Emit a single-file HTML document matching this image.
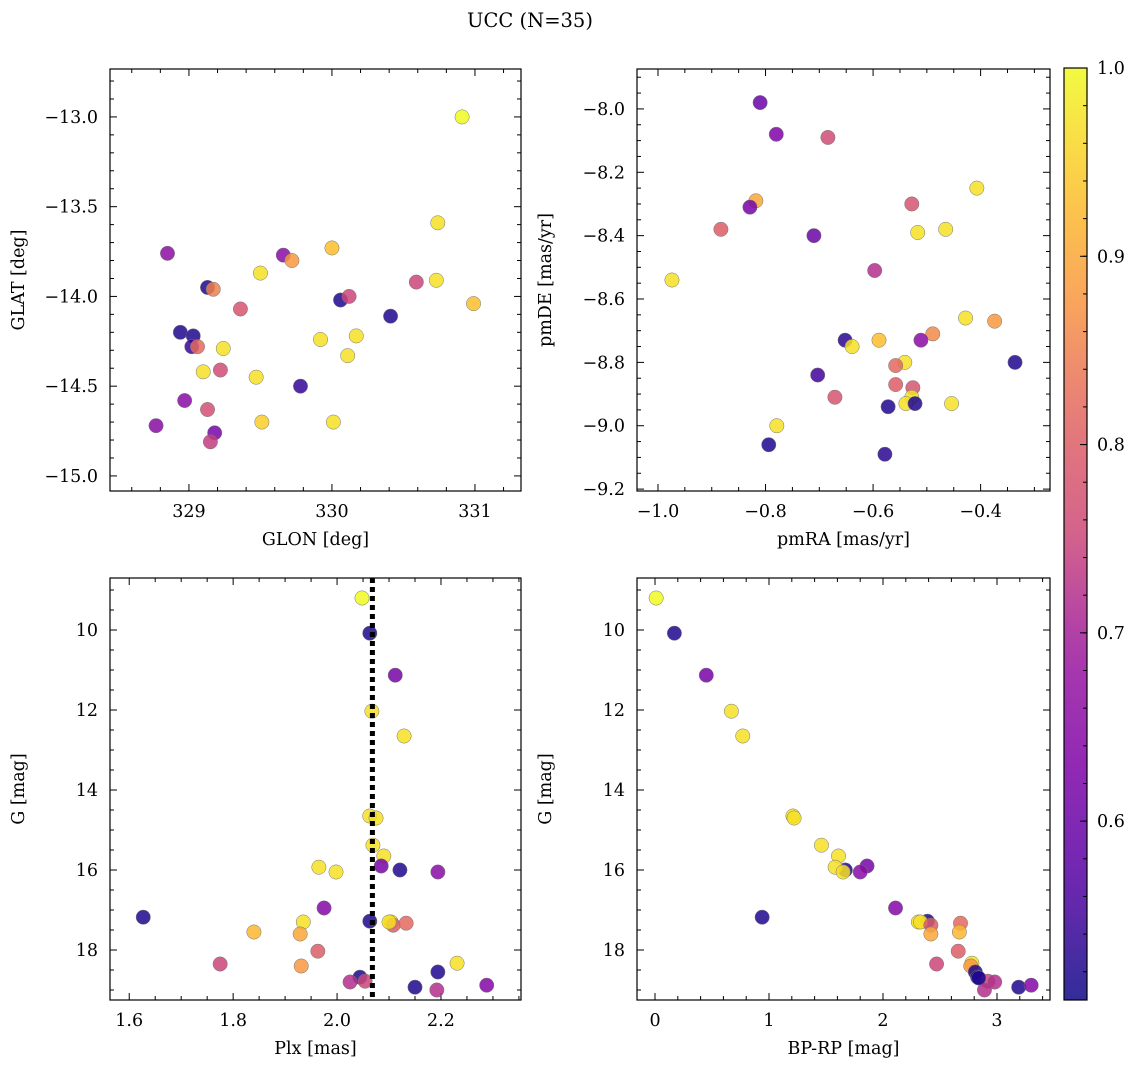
<!DOCTYPE html>
<html><head><meta charset="utf-8">
<style>
html,body{margin:0;padding:0;background:#fff;}
svg{display:block;font-family:"DejaVu Serif","Liberation Serif",serif;}
</style></head>
<body>
<svg id="fig" width="1136" height="1068" viewBox="0 0 1136 1068" xmlns="http://www.w3.org/2000/svg">
<defs>
<linearGradient id="cbg" x1="0" y1="1" x2="0" y2="0"></linearGradient>
</defs>
<text x="530" y="27" text-anchor="middle" font-size="19.5">UCC (N=35)</text>
</svg>
<script>
// ---- Panel 1: GLON / GLAT ----
const glon = [330.91,330.74,328.85,329.66,329.72,330.0,329.50,330.73,330.59,330.99,329.13,329.17,330.06,330.12,329.36,330.41,328.94,329.03,330.17,329.92,330.11,329.02,329.06,329.24,329.10,329.22,329.47,329.78,328.97,329.13,329.51,330.01,328.77,329.18,329.15];
const glat = [-13.0,-13.59,-13.76,-13.77,-13.80,-13.73,-13.87,-13.91,-13.92,-14.04,-13.95,-13.96,-14.02,-14.0,-14.07,-14.11,-14.20,-14.22,-14.22,-14.24,-14.33,-14.28,-14.28,-14.29,-14.42,-14.41,-14.45,-14.50,-14.58,-14.63,-14.70,-14.70,-14.72,-14.76,-14.81];
const prob1 = [1.0,0.97,0.66,0.65,0.88,0.93,0.97,0.97,0.75,0.93,0.52,0.85,0.52,0.75,0.78,0.52,0.52,0.52,0.97,0.97,0.97,0.54,0.82,0.97,0.97,0.76,0.97,0.54,0.65,0.77,0.95,0.97,0.65,0.62,0.74];
// ---- Panel 2: pmRA / pmDE ----
const pmra = [-0.81,-0.78,-0.684,-0.818,-0.829,-0.407,-0.528,-0.883,-0.71,-0.517,-0.465,-0.974,-0.597,-0.428,-0.374,-0.489,-0.652,-0.589,-0.639,-0.511,-0.336,-0.541,-0.558,-0.703,-0.558,-0.526,-0.528,-0.539,-0.572,-0.522,-0.454,-0.671,-0.779,-0.794,-0.578];
const pmde = [-7.98,-8.08,-8.09,-8.29,-8.31,-8.25,-8.30,-8.38,-8.40,-8.39,-8.38,-8.54,-8.51,-8.66,-8.67,-8.71,-8.73,-8.73,-8.75,-8.73,-8.80,-8.80,-8.81,-8.84,-8.87,-8.88,-8.91,-8.93,-8.94,-8.93,-8.93,-8.91,-9.0,-9.06,-9.09];
const prob2 = [0.6,0.63,0.76,0.9,0.62,0.97,0.78,0.8,0.6,0.97,0.97,0.97,0.72,0.97,0.88,0.86,0.53,0.93,0.97,0.65,0.52,0.97,0.82,0.55,0.8,0.78,0.97,0.97,0.52,0.52,0.97,0.78,0.97,0.52,0.53];
// ---- Panel 3: Plx / G ----
const plx = [2.048,2.063,2.112,2.067,2.129,2.063,2.075,2.069,2.09,2.085,2.121,2.194,1.965,1.998,1.975,1.627,2.063,1.935,2.104,2.108,2.133,1.84,1.929,1.963,1.775,2.231,1.931,2.194,2.044,2.054,2.025,2.15,2.288,2.192,2.100];
const gmag3 = [9.2,10.08,11.13,12.03,12.65,14.65,14.7,15.38,15.65,15.9,16.0,16.05,15.93,16.05,16.95,17.18,17.28,17.3,17.3,17.38,17.33,17.55,17.6,18.03,18.35,18.33,18.4,18.55,18.68,18.78,18.8,18.93,18.88,19.0,17.3];
const prob3 = [1.0,0.52,0.62,0.97,0.97,0.97,0.97,0.97,0.97,0.62,0.52,0.65,0.97,0.97,0.64,0.52,0.52,0.97,0.97,0.8,0.82,0.92,0.9,0.8,0.75,0.97,0.88,0.52,0.52,0.75,0.72,0.52,0.64,0.72,0.97];
// ---- Panel 4: BP-RP / G ----
const bprp = [0.01,0.17,0.45,0.67,0.77,1.21,1.22,1.46,1.61,1.86,1.67,1.80,1.58,1.65,2.11,0.94,2.39,2.31,2.33,2.42,2.68,2.67,2.42,2.66,2.47,2.78,2.77,2.81,2.83,2.92,2.98,3.19,3.30,2.89,2.84];
const gmag4 = [9.2,10.08,11.13,12.03,12.65,14.65,14.7,15.38,15.65,15.9,16.0,16.05,15.93,16.05,16.95,17.18,17.28,17.3,17.3,17.38,17.33,17.55,17.6,18.03,18.35,18.33,18.4,18.55,18.68,18.78,18.8,18.93,18.88,19.0,18.7];
const prob4 = [1.0,0.52,0.62,0.97,0.97,0.97,0.97,0.97,0.97,0.62,0.52,0.65,0.97,0.97,0.64,0.52,0.52,0.97,0.97,0.8,0.82,0.92,0.9,0.8,0.75,0.97,0.88,0.52,0.52,0.75,0.72,0.52,0.64,0.72,0.52];
const plxMedian = [2.068];
const cbTicks = [0.6,0.7,0.8,0.9,1.0];
const cbRange = [0.505,1.0];

const NS="http://www.w3.org/2000/svg";
const svg=document.getElementById('fig');
const FS=17.5;
function el(tag,attrs,parent){const e=document.createElementNS(NS,tag);for(const k in attrs)e.setAttribute(k,attrs[k]);(parent||svg).appendChild(e);return e;}
const plasma=[[13,8,135],[84,2,163],[126,3,168],[156,23,158],[204,71,120],[225,100,98],[248,149,64],[253,195,40],[240,249,33]];
function cmap(v){let t=(v-cbRange[0])/(cbRange[1]-cbRange[0]);t=Math.max(0,Math.min(1,t));const p=t*(plasma.length-1);const i=Math.min(plasma.length-2,Math.floor(p));const f=p-i;const a=plasma[i],b=plasma[i+1];return `rgb(${a.map((c,k)=>Math.round(c+(b[k]-c)*f)).join(',')})`;}

function fmt(v,dec){let s=v.toFixed(dec);return s.replace('-','\u2212');}

function panel(o){
  const {px,py,pw,ph,xmin,xmax,ymin,ymax,invY,xMaj,xMin,yMaj,yMin,xdec,ydec,xlabel,ylabel,name}=o;
  const g=el('g',{});
  
  
  const sx=v=>px+(v-xmin)/(xmax-xmin)*pw;
  const sy=v=>invY? py+(v-ymin)/(ymax-ymin)*ph : py+ph-(v-ymin)/(ymax-ymin)*ph;
  const tg=el('g',{stroke:'#000','stroke-width':1},g);
  
  
  const eps=1e-9;
  for(let v=Math.ceil(xmin/xMin-eps)*xMin; v<=xmax+eps; v+=xMin){const x=sx(v);const maj=Math.abs(v/xMaj-Math.round(v/xMaj))<1e-6;const L=maj?7:4;
    el('line',{x1:x,y1:py+ph,x2:x,y2:py+ph-L},tg);el('line',{x1:x,y1:py,x2:x,y2:py+L},tg);
    if(maj){const t=el('text',{x:x,y:py+ph+26,'text-anchor':'middle','font-size':FS,stroke:'none'},g);t.textContent=fmt(Math.round(v/xMaj)*xMaj,xdec);
      
      }}
  for(let v=Math.ceil(ymin/yMin-eps)*yMin; v<=ymax+eps; v+=yMin){const y=sy(v);const maj=Math.abs(v/yMaj-Math.round(v/yMaj))<1e-6;const L=maj?7:4;
    el('line',{x1:px,y1:y,x2:px+L,y2:y},tg);el('line',{x1:px+pw,y1:y,x2:px+pw-L,y2:y},tg);
    if(maj){const t=el('text',{x:px-12,y:y+6,'text-anchor':'end','font-size':FS},g);t.textContent=fmt(Math.round(v/yMaj)*yMaj,ydec);
      
      }}
  const fr=el('rect',{x:px,y:py,width:pw,height:ph,fill:'none',stroke:'#000','stroke-width':1.2},g);
  
  
  const xl=el('text',{x:px+pw/2,y:py+ph+54,'text-anchor':'middle','font-size':FS},g);xl.textContent=xlabel;
  
  
  const yl=el('text',{x:0,y:0,'text-anchor':'middle','font-size':FS,transform:`translate(${px-86},${py+ph/2}) rotate(-90)`},g);yl.textContent=ylabel;
  
  
  return {g,sx,sy};
}
function scatter(p,xs,ys,cs,name){
  cs.forEach((c0,i)=>{const c=el('circle',{cx:p.sx(xs[i]),cy:p.sy(ys[i]),r:7.2,fill:cmap(cs[i]),'fill-opacity':0.85,stroke:'#777','stroke-width':0.5},p.g);
    
    });
}
const p1=panel({px:110,py:69,pw:411,ph:422,xmin:328.448,xmax:331.322,ymin:-15.084,ymax:-12.733,invY:false,xMaj:1,xMin:0.2,yMaj:0.5,yMin:0.1,xdec:0,ydec:1,xlabel:'GLON [deg]',ylabel:'GLAT [deg]',name:'panel-glon-glat'});
scatter(p1,glon,glat,prob1,'star-point');
const p2=panel({px:637,py:69,pw:413,ph:422,xmin:-1.039,xmax:-0.271,ymin:-9.206,ymax:-7.874,invY:false,xMaj:0.2,xMin:0.05,yMaj:0.2,yMin:0.05,xdec:1,ydec:1,xlabel:'pmRA [mas/yr]',ylabel:'pmDE [mas/yr]',name:'panel-proper-motion'});
scatter(p2,pmra,pmde,prob2,'star-point');
const p3=panel({px:110,py:578,pw:411,ph:422,xmin:1.563,xmax:2.354,ymin:8.7,ymax:19.25,invY:true,xMaj:0.2,xMin:0.05,yMaj:2,yMin:0.5,xdec:1,ydec:0,xlabel:'Plx [mas]',ylabel:'G [mag]',name:'panel-parallax'});
scatter(p3,plx,gmag3,prob3,'star-point');
const ml=el('line',{x1:p3.sx(plxMedian[0]),x2:p3.sx(plxMedian[0]),y1:578,y2:1000,stroke:'#000','stroke-width':5,'stroke-dasharray':'5,4'},p3.g);


const p4=panel({px:637,py:578,pw:413,ph:422,xmin:-0.158,xmax:3.465,ymin:8.7,ymax:19.25,invY:true,xMaj:1,xMin:0.2,yMaj:2,yMin:0.5,xdec:0,ydec:0,xlabel:'BP-RP [mag]',ylabel:'G [mag]',name:'panel-cmd'});
scatter(p4,bprp,gmag4,prob4,'star-point');
const grad=document.getElementById('cbg');
for(let i=0;i<=20;i++){const v=cbRange[0]+(cbRange[1]-cbRange[0])*i/20;el('stop',{offset:(i/20),'stop-color':cmap(v),'stop-opacity':0.85},grad);}
const cb=el('g',{});


const cbx=1064,cby=68,cbw=23,cbh=932;
el('rect',{x:cbx,y:cby,width:cbw,height:cbh,fill:'url(#cbg)',stroke:'#000','stroke-width':1.2},cb);
const cy=v=>cby+cbh-(v-cbRange[0])/(cbRange[1]-cbRange[0])*cbh;
for(let v=0.52;v<=1.0001;v+=0.02){const y=cy(v);el('line',{x1:cbx+cbw,x2:cbx+cbw-4,y1:y,y2:y,stroke:'#000'},cb);}
cbTicks.forEach(v=>{const y=cy(v);el('line',{x1:cbx+cbw,x2:cbx+cbw-7,y1:y,y2:y,stroke:'#000'},cb);
  const t=el('text',{x:cbx+cbw+10,y:y+6,'font-size':FS},cb);t.textContent=v.toFixed(1);
  
  });
</script>
</body></html>
